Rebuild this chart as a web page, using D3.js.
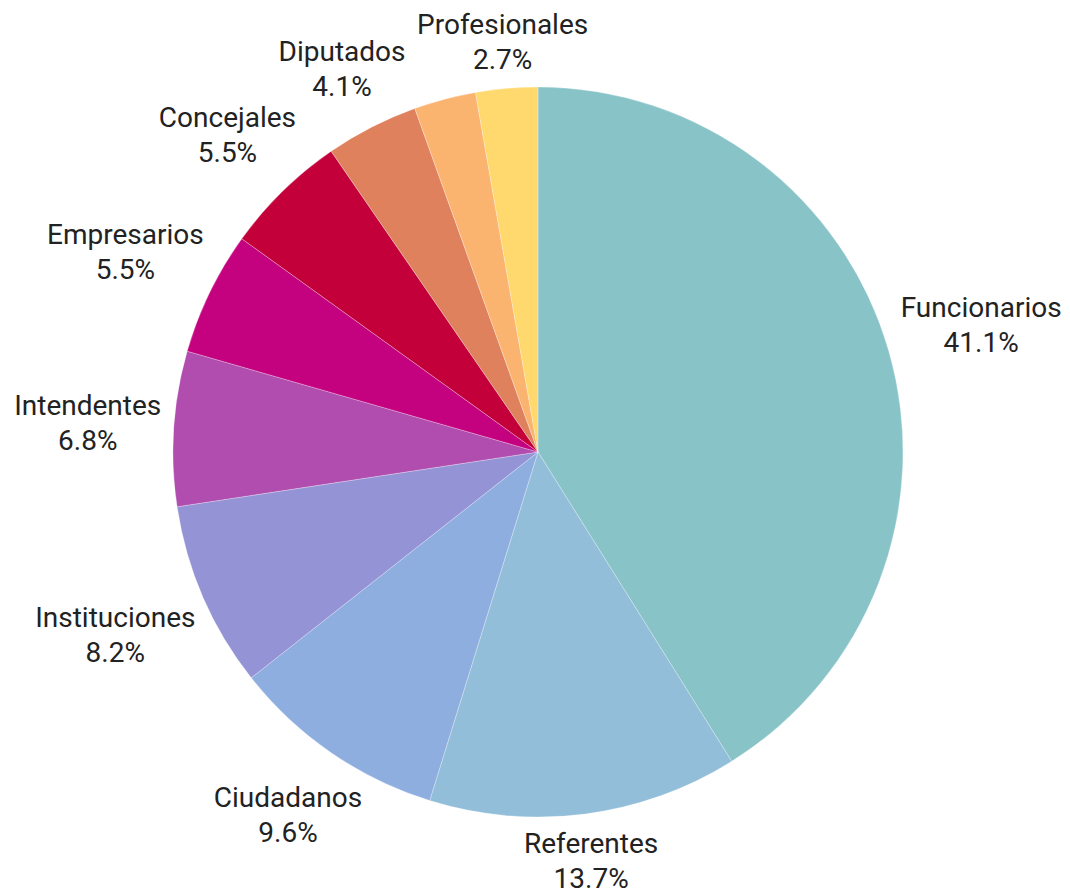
<!DOCTYPE html>
<html>
<head>
<meta charset="utf-8">
<script src="https://cdn.jsdelivr.net/npm/d3@7"></script>
<style>
  html, body { margin: 0; padding: 0; background: #fff; }
  svg { display: block; font-family: Roboto, "Noto Sans", sans-serif; }
</style>
</head>
<body>
<svg id="chart" width="1070" height="888"></svg>
<script>
/* ── DATA ─────────────────────────────────────────────────────────────────── */
const categories = ['Funcionarios', 'Referentes', 'Ciudadanos', 'Instituciones', 'Intendentes',
                    'Empresarios', 'Concejales', 'Diputados', 'Otros', 'Profesionales'];
const counts     = [30, 10, 7, 6, 5, 4, 4, 3, 2, 2];
const colors     = ['#88c3c8', '#92bed9', '#8faee0', '#9393d6', '#b04daf',
                    '#c4027f', '#c4003b', '#e0815d', '#fbb370', '#ffd86e'];
// label of the light orange slice is hidden in the original (overlap)
const showLabel  = [true, true, true, true, true, true, true, true, false, true];

/* ── LAYOUT ───────────────────────────────────────────────────────────────── */
const cx = 538, cy = 452, R = 365;
const FONT = 28, LINE = 35;

const svg = d3.select('#chart');
const g = svg.append('g').attr('transform', `translate(${cx},${cy})`);

const total = d3.sum(counts);
const rows = categories.map((c, i) => ({ name: c, value: counts[i], color: colors[i], show: showLabel[i] }));

const pie = d3.pie().value(d => d.value).sort(null);
const arc = d3.arc().innerRadius(0).outerRadius(R);
const arcs = pie(rows);

g.selectAll('path.slice')
  .data(arcs)
  .join('path')
  .attr('class', 'slice')
  .attr('d', arc)
  .attr('fill', d => d.data.color)
  .attr('stroke', 'rgba(255,255,255,0.35)')
  .attr('stroke-width', 0.8);

/* ── LABELS ───────────────────────────────────────────────────────────────── */
const fmt = v => (v / total * 100).toFixed(1) + '%';
const r0 = 376, halfH = 28;

const labels = g.selectAll('g.label')
  .data(arcs.filter(d => d.data.show))
  .join('g')
  .attr('class', 'label');

labels.each(function(d) {
  const el = d3.select(this);
  const a = (d.startAngle + d.endAngle) / 2;
  const t = el.append('text')
    .attr('text-anchor', 'middle')
    .attr('font-size', FONT)
    .attr('fill', '#222');
  t.append('tspan').attr('x', 0).attr('dy', 0).text(d.data.name);
  t.append('tspan').attr('x', 0).attr('dy', LINE).text(fmt(d.data.value));

  // push the block out along the radial line until its edge clears the anchor circle
  const bb = t.node().getBBox();
  const sx = Math.sin(a), sy = -Math.cos(a);
  const dist = r0 + Math.abs(sx) * bb.width / 2 + Math.abs(sy) * halfH;
  const offY = bb.y + bb.height / 2;
  el.attr('transform', `translate(${sx * dist},${sy * dist - offY})`);
});
</script>
</body>
</html>
